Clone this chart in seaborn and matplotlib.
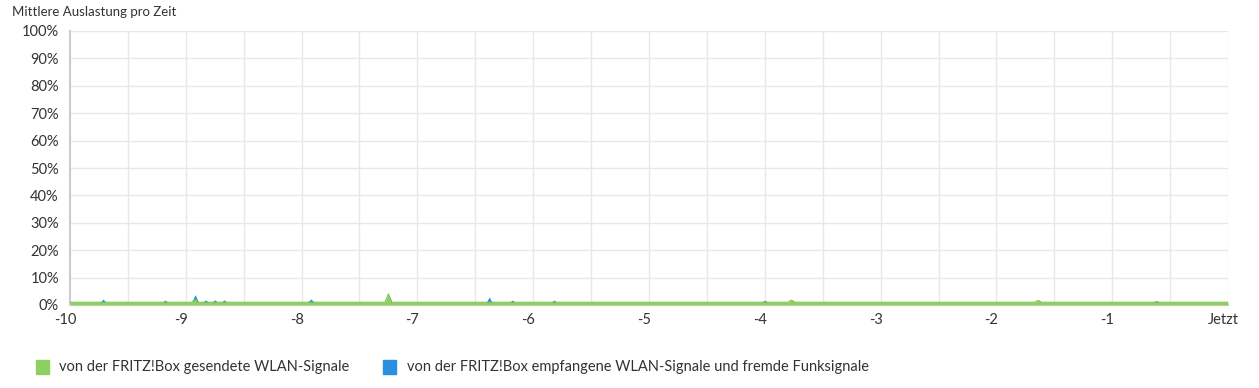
import numpy as np
import pandas as pd
import matplotlib
matplotlib.use("Agg")
import matplotlib.pyplot as plt
import matplotlib.transforms as mtransforms
import seaborn as sns
from matplotlib.patches import Patch

# --- data (time in units before "Jetzt", value in %) ---
green_time = [-10.0, -8.95, -8.92, -8.89, -7.28, -7.25, -7.22, -3.80, -3.77, -3.74, -1.67, -1.64, -1.61, 0.0]
green_value = [1.0, 1.0, 2.0, 1.0, 1.0, 4.0, 1.0, 1.0, 1.8, 1.0, 1.0, 1.7, 1.0, 1.0]

blue_time = [-10.0,
             -9.74, -9.715, -9.69,
             -9.205, -9.18, -9.155,
             -8.95, -8.92, -8.89,
             -8.855, -8.83, -8.805,
             -8.775, -8.75, -8.725,
             -8.695, -8.67, -8.645,
             -7.95, -7.92, -7.89,
             -6.405, -6.38, -6.355,
             -6.205, -6.18, -6.155,
             -5.845, -5.82, -5.795,
             -4.025, -4.00, -3.975,
             -0.645, -0.62, -0.595,
             0.0]
blue_value = [0.0,
              0.0, 1.2, 0.0,
              0.0, 0.8, 0.0,
              0.0, 1.8, 0.0,
              0.0, 0.9, 0.0,
              0.0, 0.9, 0.0,
              0.0, 0.9, 0.0,
              0.0, 1.2, 0.0,
              0.0, 1.9, 0.0,
              0.0, 0.8, 0.0,
              0.0, 0.8, 0.0,
              0.0, 0.8, 0.0,
              0.0, 0.7, 0.0,
              0.0]

x_ticks = [-10, -9, -8, -7, -6, -5, -4, -3, -2, -1, 0]
x_tick_labels = ["-10", "-9", "-8", "-7", "-6", "-5", "-4", "-3", "-2", "-1", "Jetzt"]
y_ticks = [0, 10, 20, 30, 40, 50, 60, 70, 80, 90, 100]

green_label = "von der FRITZ!Box gesendete WLAN-Signale"
blue_label = "von der FRITZ!Box empfangene WLAN-Signale und fremde Funksignale"
title = "Mittlere Auslastung pro Zeit"

GREEN = "#8fcf5f"
BLUE = "#2a8fe0"

sns.set_theme(style="white")
plt.rcParams["font.family"] = ["Lato", "DejaVu Sans"]

fig = plt.figure(figsize=(12.59, 3.88), dpi=100)
ax = fig.add_axes([70 / 1259, 1 - 305 / 388, (1228 - 70) / 1259, (305 - 31) / 388])

gdf = pd.DataFrame({"t": green_time, "v": green_value})
bdf = pd.DataFrame({"t": blue_time, "v": blue_value})

# blue stacked on top of green
all_t = np.union1d(gdf["t"].values, bdf["t"].values)
g_on = np.interp(all_t, gdf["t"], gdf["v"])
b_on = np.interp(all_t, bdf["t"], bdf["v"])

ax.fill_between(all_t, g_on, g_on + b_on, color=BLUE, lw=0, zorder=3)
ax.fill_between(gdf["t"], 0, gdf["v"], color=GREEN, lw=0, zorder=4)
sns.lineplot(data=gdf, x="t", y="v", ax=ax, color="#7cc255", lw=0.8, zorder=5, legend=False)

ax.set_xlim(-10, 0)
ax.set_ylim(0, 100)
ax.set_xticks(x_ticks)
ax.set_xticklabels(x_tick_labels)
ax.set_xticks(np.arange(-9.5, 0, 1.0), minor=True)
ax.set_yticks(y_ticks)
ax.set_yticklabels([f"{v}%" for v in y_ticks])

gridc = "#e8e8e8"
for xv in np.arange(-9.5, 0.01, 0.5):
    ax.axvline(xv, color=gridc, lw=1, zorder=0)
for yv in y_ticks[1:]:
    ax.axhline(yv, color=gridc, lw=1, zorder=0)

ax.set_xlabel("")
ax.set_ylabel("")
for s in ["top", "right"]:
    ax.spines[s].set_visible(False)
ax.spines["left"].set_color("#cccccc")
ax.spines["bottom"].set_color("#d8d8d8")
ax.spines["left"].set_linewidth(1.5)
ax.spines["bottom"].set_linewidth(1.5)

ax.tick_params(axis="x", which="major", length=0, pad=6, labelsize=10.5, labelcolor="#333333")
ax.tick_params(axis="x", which="minor", length=6, color="#cccccc", width=1)
ax.tick_params(axis="y", which="major", length=5, color="#cccccc", pad=3, labelsize=10.5, labelcolor="#333333")

# shift x tick labels slightly left, as in the reference
offset = mtransforms.ScaledTranslation(-5 / 100, 0, fig.dpi_scale_trans)
for lbl in ax.get_xticklabels():
    lbl.set_transform(lbl.get_transform() + offset)

fig.text(12 / 1259, 1 - 12 / 388, title, fontsize=9.5, color="#333333", va="center", ha="left")

handles = [Patch(color=GREEN, label=green_label), Patch(color=BLUE, label=blue_label)]
fig.legend(handles=handles, loc="center left", bbox_to_anchor=(23 / 1259, 1 - 367 / 388),
           ncol=2, frameon=False, fontsize=10.5, handlelength=0.9, handleheight=1.1,
           handletextpad=0.7, columnspacing=2.3, labelcolor="#333333")

fig.savefig("out.png", dpi=100)
